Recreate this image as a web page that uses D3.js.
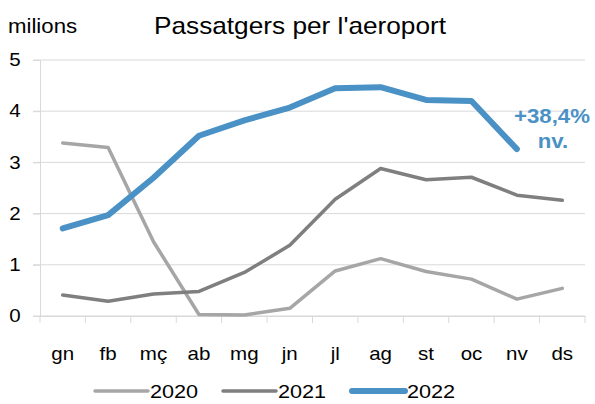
<!DOCTYPE html>
<html>
<head>
<meta charset="utf-8">
<script src="https://cdn.jsdelivr.net/npm/d3@7"></script>
<style>
  body { margin: 0; background: #fff; }
  svg { font-family: "Liberation Sans", Arial, sans-serif; }
</style>
</head>
<body>
<svg id="chart" width="595" height="404"></svg>
<script>
const months = ['gn', 'fb', 'mç', 'ab', 'mg', 'jn', 'jl', 'ag', 'st', 'oc', 'nv', 'ds'];
const yTicks = [0, 1, 2, 3, 4, 5];
const values2020 = [3.38, 3.29, 1.45, 0.03, 0.02, 0.15, 0.88, 1.12, 0.87, 0.72, 0.33, 0.54];
const values2021 = [0.41, 0.29, 0.43, 0.48, 0.85, 1.38, 2.28, 2.88, 2.66, 2.71, 2.36, 2.26];
const values2022 = [1.71, 1.97, 2.7, 3.52, 3.82, 4.07, 4.45, 4.47, 4.22, 4.2, 3.26];

const series = [
    { name: '2020', values: values2020, color: '#a6a6a6', width: 3.5 },
    { name: '2021', values: values2021, color: '#7f7f7f', width: 3.5 },
    { name: '2022', values: values2022, color: '#4a91c5', width: 6 }
];

// the original text is a bit wider than Arial
const sx = 1.14;

const svg = d3.select('#chart');

function label(x, y, txt, size, anchor) {
    return svg.append('text')
        .attr('transform', `translate(${x},${y}) scale(${sx},1)`)
        .attr('text-anchor', anchor || 'start')
        .attr('font-size', size)
        .text(txt);
}

const x = d3.scaleBand()
    .domain(months)
    .range([40, 585]);

const y = d3.scaleLinear()
    .domain([0, 5])
    .range([316, 60]);

// gridlines
svg.append('g')
    .selectAll('line')
    .data(yTicks)
    .enter().append('line')
    .attr('x1', 33)
    .attr('x2', 585)
    .attr('y1', d => y(d))
    .attr('y2', d => y(d))
    .attr('stroke', '#d9d9d9')
    .attr('stroke-width', 1);

// y axis
const yAxis = svg.append('g')
    .attr('transform', 'translate(40,0)')
    .call(d3.axisLeft(y).tickValues(yTicks).tickFormat(d3.format('d')).tickSize(7).tickPadding(10));
yAxis.select('.domain').attr('stroke', '#d9d9d9');
yAxis.selectAll('.tick line').attr('stroke', '#d9d9d9');
yAxis.selectAll('text')
    .attr('x', -17)
    .attr('transform', `scale(${sx},1)`)
    .attr('font-size', 18)
    .attr('fill', '#000')
    .attr('font-family', '"Liberation Sans", Arial, sans-serif');

// x axis
const xAxis = svg.append('g')
    .attr('transform', `translate(0,${y(0)})`)
    .call(d3.axisBottom(x).tickSize(0));
xAxis.select('.domain').attr('stroke', '#d9d9d9');
xAxis.selectAll('text')
    .attr('y', 44)
    .attr('dy', 0)
    .attr('transform', `scale(${sx},1)`)
    .attr('font-size', 18)
    .attr('fill', '#000')
    .attr('font-family', '"Liberation Sans", Arial, sans-serif');

// x tick marks at band edges
svg.append('g')
    .selectAll('line')
    .data(d3.range(months.length + 1))
    .enter().append('line')
    .attr('x1', i => i < months.length ? x(months[i]) : x.range()[1])
    .attr('x2', i => i < months.length ? x(months[i]) : x.range()[1])
    .attr('y1', y(0))
    .attr('y2', y(0) + 7)
    .attr('stroke', '#d9d9d9');

// lines
const line = d3.line()
    .x((d, i) => x(months[i]) + x.bandwidth() / 2)
    .y(d => y(d));

svg.append('g')
    .selectAll('path')
    .data(series)
    .enter().append('path')
    .attr('d', d => line(d.values))
    .attr('fill', 'none')
    .attr('stroke', d => d.color)
    .attr('stroke-width', d => d.width)
    .attr('stroke-linecap', 'round')
    .attr('stroke-linejoin', 'round');

// annotation
label(552, 123, '+38,4%', 19.5, 'middle')
    .attr('font-weight', 'bold')
    .attr('fill', '#4a91c5');
label(553, 148, 'nv.', 19.5, 'middle')
    .attr('font-weight', 'bold')
    .attr('fill', '#4a91c5');

// titles
label(8, 33, 'milions', 19.5);
label(300, 34, "Passatgers per l'aeroport", 23, 'middle');

// legend
const legendX = [95, 223, 352];
const legend = svg.append('g')
    .selectAll('g')
    .data(series)
    .enter().append('g')
    .attr('transform', (d, i) => `translate(${legendX[i]},391)`);

legend.append('line')
    .attr('x1', 0)
    .attr('x2', 53)
    .attr('stroke', d => d.color)
    .attr('stroke-width', d => d.width)
    .attr('stroke-linecap', 'round');

legend.append('text')
    .attr('transform', `translate(55,7) scale(${sx},1)`)
    .attr('font-size', 19)
    .text(d => d.name);
</script>
</body>
</html>
